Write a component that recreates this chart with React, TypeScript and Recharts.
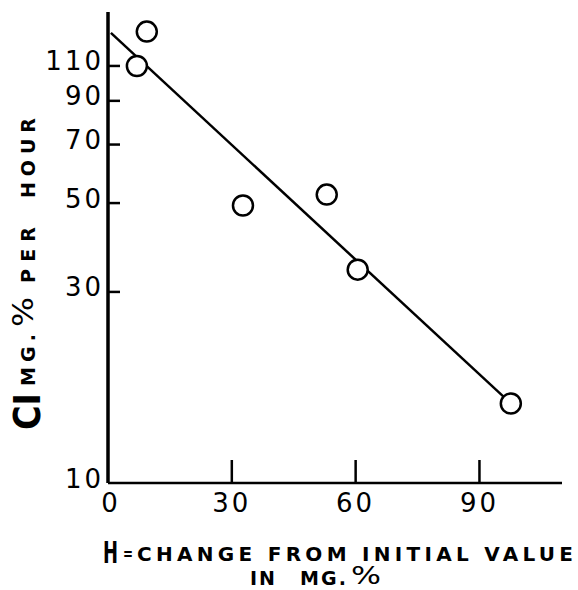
import React from 'react';
import { ScatterChart, Scatter, XAxis, YAxis } from 'recharts';

// H = change from initial value (mg.%), Cl rate (mg.% per hour)
const changeH = [7.0, 9.4, 32.7, 53.0, 60.5, 97.6];
const clRate = [110, 134, 49.3, 52.5, 34.1, 15.8];

// end points of the fitted line
const fitH = [0.7, 97.6];
const fitCl = [133, 15.8];

const xTicks = [0, 30, 60, 90];
const yTicks = [10, 30, 50, 70, 90, 110];

const points = changeH.map((h, i) => ({ h, cl: clRate[i] }));
const fitLine = fitH.map((h, i) => ({ h, cl: fitCl[i] }));

const FONT = '"DejaVu Sans", sans-serif';

const XTick = (props: any) => {
  const { x, y, payload } = props;
  const v = payload.value;
  return (
    <g>
      {v !== 0 && <line x1={x} y1={y} x2={x} y2={y - 23} stroke="#000" strokeWidth={2.5} />}
      <text x={v === 0 ? x + 3 : x} y={y + 29} textAnchor="middle" fontFamily={FONT} fontSize={26} letterSpacing={3} fill="#000">
        {v}
      </text>
    </g>
  );
};

const YTick = (props: any) => {
  const { x, y, payload } = props;
  const v = payload.value;
  return (
    <g>
      {v !== 10 && <line x1={x} y1={y} x2={x + 12} y2={y} stroke="#000" strokeWidth={2.5} />}
      <text x={x - 4} y={y + 4.5} textAnchor="end" fontFamily={FONT} fontSize={26} letterSpacing={3} fill="#000">
        {v}
      </text>
    </g>
  );
};

const XTitle = () => (
  <g fontFamily={FONT} fill="#000" fontWeight="bold">
    <text x={103} y={563} fontSize={30} textLength={15} lengthAdjust="spacingAndGlyphs">H</text>
    <text x={123} y={560} fontSize={17} textLength={10} lengthAdjust="spacingAndGlyphs">=</text>
    <text x={137} y={561} fontSize={20} textLength={436} lengthAdjust="spacing">CHANGE FROM INITIAL VALUE</text>
    <text x={250} y={585} fontSize={19} textLength={25} lengthAdjust="spacing">IN</text>
    <text x={300} y={585} fontSize={19} textLength={46} lengthAdjust="spacing">MG.</text>
    <text x={351} y={584} fontSize={24} fontWeight="normal" textLength={30} lengthAdjust="spacingAndGlyphs">%</text>
  </g>
);

const YTitle = () => (
  <g fontFamily={FONT} fill="#000" fontWeight="bold" transform="translate(40,432) rotate(-90)">
    <text x={2} y={0} fontSize={38} textLength={37} lengthAdjust="spacingAndGlyphs">CI</text>
    <text x={46} y={-5} fontSize={19} textLength={52} lengthAdjust="spacing">MG.</text>
    <text x={105} y={-7} fontSize={28} fontWeight="normal" textLength={30} lengthAdjust="spacingAndGlyphs">%</text>
    <text x={149} y={-5} fontSize={19} textLength={56} lengthAdjust="spacing">PER</text>
    <text x={234} y={-5} fontSize={19} textLength={80} lengthAdjust="spacing">HOUR</text>
  </g>
);

const Ring = (props: any) => {
  const { cx, cy } = props;
  return <circle cx={cx} cy={cy} r={10} fill="#fff" stroke="#000" strokeWidth={2.5} />;
};

export default function App() {
  return (
    <div style={{ position: 'absolute', left: 0, top: 0, width: 578, height: 590, background: '#fff' }}>
      <ScatterChart width={578} height={590} margin={{ top: 12, right: 16, left: 0, bottom: 0 }}>
        <XAxis
          type="number"
          dataKey="h"
          domain={[0, 110]}
          ticks={xTicks}
          height={107}
          tickSize={0}
          tickMargin={0}
          tick={<XTick />}
          axisLine={{ stroke: '#000', strokeWidth: 2.5 }}
          allowDataOverflow
          label={<XTitle />}
        />
        <YAxis
          type="number"
          dataKey="cl"
          scale="log"
          domain={[10, 150]}
          ticks={yTicks}
          width={108}
          tickSize={0}
          tickMargin={0}
          tick={<YTick />}
          axisLine={{ stroke: '#000', strokeWidth: 3.5 }}
          allowDataOverflow
          label={<YTitle />}
        />
        <Scatter
          data={fitLine}
          line={{ stroke: '#000', strokeWidth: 2.5 }}
          shape={() => <g />}
          isAnimationActive={false}
          legendType="none"
        />
        <Scatter data={points} shape={<Ring />} isAnimationActive={false} legendType="none" />
      </ScatterChart>
    </div>
  );
}
